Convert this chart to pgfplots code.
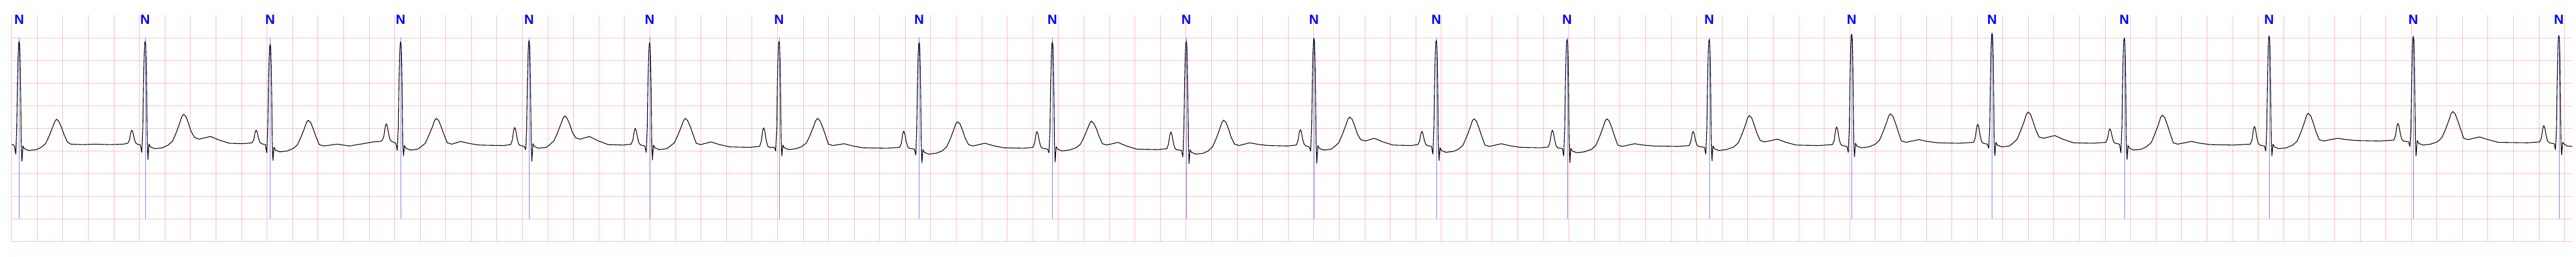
\documentclass[border=0pt]{standalone}
\usepackage{pgfplots}
\pgfplotsset{compat=1.18}
\usepackage{fontspec}
\newfontfamily\labfont{Liberation Sans}
\begin{document}
\begin{tikzpicture}
\begin{axis}[
  at={(0,0)}, anchor=south west, scale only axis,
  width=747.67pt, height=66.2pt,
  xmin=34.3, xmax=7511, ymin=-2, ymax=3,
  xtick={34.3,108.84,...,7490}, ytick={-2,-1.5,...,2.5},
  xticklabels={}, yticklabels={}, major tick length=0pt,
  tick style={draw=none},
  axis line style={draw=none},
  grid=major,
  major grid style={line width=0.16pt, color=red, opacity=0.25},
  clip=false,
]
% ECG signal (x in image pixels, y in mV)
\addplot[black, line width=0.2pt, line join=round, mark=none] coordinates {
(34.3,0.13) (38,0.14) (42,0.12) (46,-0.07) (49,0.5) (51,1.5) (53,2.12) (54.5,2.37) (56,2.42) (57.5,2.34) (59,1.92) (60.5,1.2) (62,0.2) (64,-0.23) (67,0.11) (71,0.05) (84,0.01) (106,0.03) (120,0.08) (133,0.16) (143,0.32) (153,0.51) (160,0.65) (165,0.70) (172,0.65) (180,0.51) (187,0.36) (197,0.2) (207,0.15) (240,0.14) (280,0.15) (320,0.14) (360,0.15)
(373,0.17) (378,0.24) (382,0.41) (385,0.46) (388,0.41) (392,0.27) (396,0.18) (401,0.15) (410,0.13) (414,-0.03) (417,0.5) (419,1.5) (421,2.12) (422.5,2.37) (424,2.42) (425.5,2.34) (427,1.92) (428.5,1.2) (430,0.2) (432,-0.19) (435,0.15) (439,0.09) (452,0.05) (474,0.07) (491,0.13) (504,0.22) (514,0.39) (524,0.60) (531,0.76) (536,0.81) (543,0.76) (551,0.60) (558,0.43) (568,0.30) (581,0.26) (615,0.32) (640,0.24) (670,0.17) (710,0.16)
(736,0.18) (741,0.25) (745,0.415) (748,0.46) (751,0.415) (755,0.28) (759,0.19) (764,0.16) (775,0.14) (779,-0.04) (782,0.5) (784,1.5) (786,2.06) (787.5,2.31) (789,2.36) (790.5,2.28) (792,1.86) (793.5,1.2) (795,0.2) (797,-0.21) (800,0.08) (804,0.02) (817,-0.02) (839,0.0) (855,0.05) (868,0.13) (878,0.29) (888,0.48) (895,0.63) (900,0.675) (907,0.63) (915,0.48) (922,0.33) (932,0.14) (945,0.11) (985,0.15) (1020,0.11) (1060,0.16) (1090,0.2) (1110,0.21)
(1116,0.23) (1121,0.33) (1125,0.54) (1128,0.60) (1131,0.54) (1135,0.37) (1139,0.25) (1144,0.21) (1156,0.17) (1160,0.01) (1163,0.5) (1165,1.5) (1167,2.11) (1168.5,2.36) (1170,2.41) (1171.5,2.33) (1173,1.91) (1174.5,1.2) (1176,0.2) (1178,-0.11) (1181,0.12) (1185,0.06) (1198,0.02) (1220,0.04) (1229,0.09) (1242,0.17) (1252,0.34) (1262,0.52) (1269,0.67) (1274,0.72) (1281,0.67) (1289,0.52) (1296,0.37) (1306,0.18) (1319,0.15) (1345,0.21) (1370,0.165) (1400,0.13) (1470,0.12)
(1491,0.14) (1496,0.24) (1500,0.46) (1503,0.52) (1506,0.46) (1510,0.28) (1514,0.16) (1519,0.12) (1531,0.10) (1535,0.03) (1538,0.5) (1540,1.5) (1542,2.14) (1543.5,2.39) (1545,2.44) (1546.5,2.36) (1548,1.94) (1549.5,1.2) (1551,0.2) (1553,-0.23) (1556,0.16) (1560,0.10) (1573,0.06) (1595,0.08) (1604,0.13) (1617,0.22) (1627,0.38) (1637,0.58) (1644,0.72) (1649,0.775) (1656,0.72) (1664,0.58) (1671,0.42) (1681,0.29) (1694,0.26) (1721,0.32) (1746,0.225) (1776,0.14) (1820,0.13)
(1843,0.15) (1848,0.24) (1852,0.44) (1855,0.50) (1858,0.44) (1862,0.28) (1866,0.17) (1871,0.13) (1883,0.11) (1887,-0.03) (1890,0.5) (1892,1.5) (1894,2.09) (1895.5,2.34) (1897,2.39) (1898.5,2.31) (1900,1.89) (1901.5,1.2) (1903,0.2) (1905,-0.20) (1908,0.13) (1912,0.07) (1925,0.03) (1947,0.05) (1956,0.10) (1969,0.18) (1979,0.34) (1989,0.53) (1996,0.67) (2001,0.72) (2008,0.67) (2016,0.53) (2023,0.38) (2033,0.17) (2046,0.14) (2076,0.20) (2101,0.14) (2131,0.09) (2190,0.08)
(2218,0.10) (2223,0.21) (2227,0.45) (2230,0.51) (2233,0.45) (2237,0.25) (2241,0.12) (2246,0.08) (2261,0.08) (2265,0.0) (2268,0.5) (2270,1.5) (2272,2.12) (2273.5,2.37) (2275,2.42) (2276.5,2.34) (2278,1.92) (2279.5,1.2) (2281,0.2) (2283,-0.11) (2286,0.13) (2290,0.07) (2303,0.03) (2325,0.05) (2342,0.10) (2355,0.18) (2365,0.34) (2375,0.53) (2382,0.67) (2387,0.72) (2394,0.67) (2402,0.53) (2409,0.38) (2419,0.15) (2432,0.12) (2465,0.16) (2490,0.11) (2520,0.07) (2590,0.06)
(2627,0.08) (2632,0.17) (2636,0.38) (2639,0.44) (2642,0.38) (2646,0.21) (2650,0.10) (2655,0.06) (2670,0.04) (2674,-0.09) (2677,0.5) (2679,1.5) (2681,2.10) (2682.5,2.35) (2684,2.40) (2685.5,2.32) (2687,1.90) (2688.5,1.2) (2690,0.2) (2692,-0.26) (2695,0.03) (2699,-0.03) (2712,-0.07) (2734,-0.05) (2751,0.0) (2764,0.09) (2774,0.25) (2784,0.45) (2791,0.60) (2796,0.645) (2803,0.60) (2811,0.45) (2818,0.29) (2828,0.14) (2841,0.11) (2876,0.17) (2901,0.115) (2931,0.07) (2990,0.06)
(3016,0.08) (3021,0.17) (3025,0.37) (3028,0.43) (3031,0.37) (3035,0.21) (3039,0.10) (3044,0.06) (3059,0.04) (3063,-0.04) (3066,0.5) (3068,1.5) (3070,2.11) (3071.5,2.36) (3073,2.41) (3074.5,2.33) (3076,1.91) (3077.5,1.2) (3079,0.2) (3081,-0.24) (3084,0.10) (3088,0.04) (3101,0.0) (3123,0.02) (3142,0.07) (3155,0.15) (3165,0.30) (3175,0.48) (3182,0.61) (3187,0.66) (3194,0.61) (3202,0.48) (3209,0.33) (3219,0.16) (3232,0.13) (3264,0.19) (3289,0.11) (3319,0.04) (3380,0.03)
(3407,0.05) (3412,0.15) (3416,0.36) (3419,0.42) (3422,0.36) (3426,0.19) (3430,0.07) (3435,0.03) (3450,0.01) (3454,-0.13) (3457,0.5) (3459,1.5) (3461,2.12) (3462.5,2.37) (3464,2.42) (3465.5,2.34) (3467,1.92) (3468.5,1.2) (3470,0.2) (3472,-0.28) (3475,0.03) (3479,-0.03) (3492,-0.07) (3514,-0.05) (3528,0.0) (3541,0.10) (3551,0.27) (3561,0.47) (3568,0.63) (3573,0.68) (3580,0.63) (3588,0.47) (3595,0.30) (3605,0.15) (3618,0.12) (3649,0.18) (3674,0.145) (3704,0.12) (3760,0.11)
(3785,0.13) (3790,0.22) (3794,0.42) (3797,0.47) (3800,0.42) (3804,0.25) (3808,0.15) (3813,0.11) (3823,0.09) (3827,0.0) (3830,0.5) (3832,1.5) (3834,2.19) (3835.5,2.44) (3837,2.49) (3838.5,2.41) (3840,1.99) (3841.5,1.2) (3843,0.2) (3845,-0.27) (3848,0.12) (3852,0.06) (3865,0.02) (3887,0.04) (3896,0.09) (3909,0.18) (3919,0.35) (3929,0.55) (3936,0.70) (3941,0.75) (3948,0.70) (3956,0.55) (3963,0.385) (3973,0.25) (3986,0.22) (4013,0.28) (4038,0.20) (4068,0.13) (4120,0.12)
(4140,0.14) (4145,0.21) (4149,0.38) (4152,0.43) (4155,0.38) (4159,0.24) (4163,0.15) (4168,0.12) (4180,0.10) (4184,-0.07) (4187,0.5) (4189,1.5) (4191,2.14) (4192.5,2.39) (4194,2.44) (4195.5,2.36) (4197,1.94) (4198.5,1.2) (4200,0.2) (4202,-0.21) (4205,0.07) (4209,0.01) (4222,-0.03) (4244,-0.01) (4259,0.04) (4272,0.13) (4282,0.30) (4292,0.50) (4299,0.66) (4304,0.71) (4311,0.66) (4319,0.50) (4326,0.34) (4336,0.13) (4349,0.10) (4384,0.16) (4409,0.115) (4439,0.08) (4500,0.07)
(4521,0.09) (4526,0.19) (4530,0.40) (4533,0.46) (4536,0.40) (4540,0.23) (4544,0.11) (4549,0.07) (4562,0.05) (4566,-0.11) (4569,0.5) (4571,1.5) (4573,2.16) (4574.5,2.41) (4576,2.46) (4577.5,2.38) (4579,1.96) (4580.5,1.2) (4582,0.2) (4584,-0.26) (4587,0.06) (4591,0.0) (4604,-0.04) (4626,-0.02) (4647,0.035) (4660,0.125) (4670,0.30) (4680,0.50) (4687,0.66) (4692,0.71) (4699,0.66) (4707,0.50) (4714,0.335) (4724,0.13) (4737,0.10) (4773,0.16) (4798,0.13) (4828,0.11) (4900,0.10)
(4932,0.12) (4937,0.20) (4941,0.38) (4944,0.43) (4947,0.38) (4951,0.23) (4955,0.13) (4960,0.10) (4977,0.08) (4981,-0.07) (4984,0.5) (4986,1.5) (4988,2.16) (4989.5,2.41) (4991,2.46) (4992.5,2.38) (4994,1.96) (4995.5,1.2) (4997,0.2) (4999,-0.22) (5002,0.11) (5006,0.05) (5019,0.01) (5041,0.03) (5063,0.09) (5076,0.18) (5086,0.36) (5096,0.56) (5103,0.73) (5108,0.78) (5115,0.73) (5123,0.56) (5130,0.395) (5140,0.23) (5153,0.20) (5190,0.26) (5215,0.19) (5245,0.13) (5310,0.12)
(5351,0.14) (5356,0.24) (5360,0.47) (5363,0.53) (5366,0.47) (5370,0.28) (5374,0.16) (5379,0.12) (5393,0.10) (5397,-0.03) (5400,0.5) (5402,1.5) (5404,2.28) (5405.5,2.53) (5407,2.58) (5408.5,2.50) (5410,2.08) (5411.5,1.2) (5413,0.2) (5415,-0.13) (5418,0.17) (5422,0.11) (5435,0.07) (5457,0.09) (5475,0.145) (5488,0.235) (5498,0.41) (5508,0.61) (5515,0.77) (5520,0.82) (5527,0.77) (5535,0.61) (5542,0.445) (5552,0.22) (5565,0.19) (5603,0.25) (5628,0.21) (5658,0.18) (5720,0.17)
(5763,0.19) (5768,0.30) (5772,0.53) (5775,0.59) (5778,0.53) (5782,0.34) (5786,0.21) (5791,0.17) (5803,0.15) (5807,0.06) (5810,0.5) (5812,1.5) (5814,2.30) (5815.5,2.55) (5817,2.60) (5818.5,2.52) (5820,2.10) (5821.5,1.2) (5823,0.2) (5825,-0.10) (5828,0.19) (5832,0.13) (5845,0.09) (5867,0.11) (5877,0.165) (5890,0.26) (5900,0.44) (5910,0.64) (5917,0.81) (5922,0.86) (5929,0.81) (5937,0.64) (5944,0.475) (5954,0.31) (5967,0.28) (6000,0.34) (6025,0.255) (6055,0.18) (6110,0.17)
(6149,0.19) (6154,0.27) (6158,0.44) (6161,0.49) (6164,0.44) (6168,0.30) (6172,0.20) (6177,0.17) (6189,0.15) (6193,-0.04) (6196,0.5) (6198,1.5) (6200,2.19) (6201.5,2.44) (6203,2.49) (6204.5,2.41) (6206,1.99) (6207.5,1.2) (6209,0.2) (6211,-0.19) (6214,0.12) (6218,0.06) (6231,0.02) (6253,0.04) (6269,0.10) (6282,0.19) (6292,0.37) (6302,0.57) (6309,0.74) (6314,0.79) (6321,0.74) (6329,0.57) (6336,0.405) (6346,0.18) (6359,0.15) (6399,0.21) (6424,0.17) (6454,0.14) (6520,0.13)
(6571,0.15) (6576,0.25) (6580,0.48) (6583,0.54) (6586,0.48) (6590,0.29) (6594,0.17) (6599,0.13) (6612,0.11) (6616,0.0) (6619,0.5) (6621,1.5) (6623,2.24) (6624.5,2.49) (6626,2.54) (6627.5,2.46) (6629,2.04) (6630.5,1.2) (6632,0.2) (6634,-0.11) (6637,0.15) (6641,0.09) (6654,0.05) (6676,0.07) (6695,0.13) (6708,0.22) (6718,0.40) (6728,0.61) (6735,0.78) (6740,0.83) (6747,0.78) (6755,0.61) (6762,0.44) (6772,0.25) (6785,0.22) (6826,0.28) (6851,0.25) (6881,0.23) (6950,0.22)
(6990,0.24) (6995,0.34) (6999,0.55) (7002,0.61) (7005,0.55) (7009,0.38) (7013,0.26) (7018,0.22) (7033,0.20) (7037,0.10) (7040,0.5) (7042,1.5) (7044,2.23) (7045.5,2.48) (7047,2.53) (7048.5,2.45) (7050,2.03) (7051.5,1.2) (7053,0.2) (7055,-0.11) (7058,0.23) (7062,0.17) (7075,0.13) (7097,0.15) (7117,0.20) (7130,0.29) (7140,0.46) (7150,0.66) (7157,0.82) (7162,0.87) (7169,0.82) (7177,0.66) (7184,0.50) (7194,0.28) (7207,0.25) (7240,0.31) (7265,0.25) (7295,0.19) (7380,0.18)
(7416,0.20) (7421,0.29) (7425,0.50) (7428,0.56) (7431,0.50) (7435,0.33) (7439,0.22) (7444,0.18) (7458,0.16) (7462,0.03) (7465,0.5) (7467,1.5) (7469,2.25) (7470.5,2.50) (7472,2.55) (7473.5,2.47) (7475,2.05) (7476.5,1.2) (7478,0.2) (7480,-0.09) (7483,0.19) (7488,0.15) (7495,0.11) (7511,0.10)
};
% beat annotation lines
\addplot[blue, opacity=0.5, line width=0.1pt, mark=none, unbounded coords=jump] coordinates {
(56,-1.5) (56,2.5) (56,nan) (424,-1.5) (424,2.5) (424,nan) (789,-1.5) (789,2.5) (789,nan)
(1170,-1.5) (1170,2.5) (1170,nan) (1545,-1.5) (1545,2.5) (1545,nan) (1897,-1.5) (1897,2.5) (1897,nan)
(2275,-1.5) (2275,2.5) (2275,nan) (2684,-1.5) (2684,2.5) (2684,nan) (3073,-1.5) (3073,2.5) (3073,nan)
(3464,-1.5) (3464,2.5) (3464,nan) (3837,-1.5) (3837,2.5) (3837,nan) (4194,-1.5) (4194,2.5) (4194,nan)
(4576,-1.5) (4576,2.5) (4576,nan) (4991,-1.5) (4991,2.5) (4991,nan) (5407,-1.5) (5407,2.5) (5407,nan)
(5817,-1.5) (5817,2.5) (5817,nan) (6203,-1.5) (6203,2.5) (6203,nan) (6626,-1.5) (6626,2.5) (6626,nan)
(7047,-1.5) (7047,2.5) (7047,nan) (7472,-1.5) (7472,2.5)
};
% beat labels
\addplot[only marks, mark=none, nodes near coords={N},
  nodes near coords style={anchor=center, inner sep=0pt, text=blue,
    font=\labfont\bfseries\fontsize{3.9pt}{4pt}\selectfont}] coordinates {
(56,2.894) (424,2.894) (789,2.894) (1170,2.894) (1545,2.894) (1897,2.894) (2275,2.894)
(2684,2.894) (3073,2.894) (3464,2.894) (3837,2.894) (4194,2.894) (4576,2.894) (4991,2.894)
(5407,2.894) (5817,2.894) (6203,2.894) (6626,2.894) (7047,2.894) (7472,2.894)
};
\end{axis}
\pgfresetboundingbox
\useasboundingbox (-3.43pt,-4.4pt) rectangle (748.77pt,70.6pt);
\end{tikzpicture}
\end{document}
